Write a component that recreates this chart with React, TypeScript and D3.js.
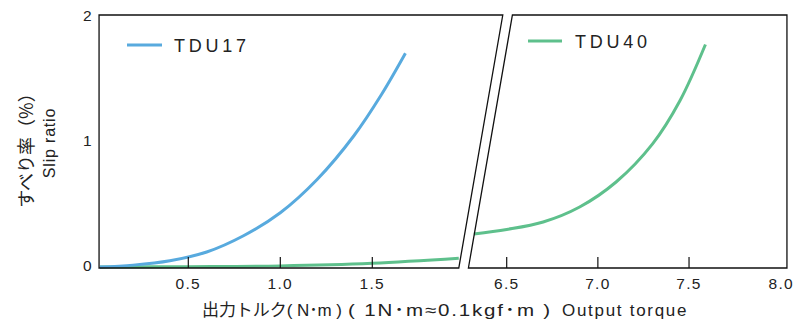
import React from 'react';
import * as d3 from 'd3';

// TDU17 (left panel)
const tdu17X = [0.02, 0.2, 0.4, 0.6, 0.8, 1.0, 1.2, 1.4, 1.55, 1.68];
const tdu17Y = [0, 0.015, 0.05, 0.12, 0.25, 0.434, 0.7, 1.05, 1.38, 1.71];
// TDU40, low range shown in left panel
const tdu40LeftX = [0.02, 0.5, 1.0, 1.5, 1.97];
const tdu40LeftY = [0, 0.003, 0.009, 0.03, 0.07];
// TDU40, right panel
const tdu40RightX = [6.32, 6.5, 6.7, 6.9, 7.1, 7.3, 7.45, 7.59];
const tdu40RightY = [0.264, 0.3, 0.36, 0.48, 0.68, 0.985, 1.33, 1.78];

const leftTicks = [0.5, 1.0, 1.5];
const rightTicks = [6.5, 7.0, 7.5];
const rightLabels = [6.5, 7.0, 7.5, 8.0];
const yTicks = [0, 1, 2];

const BLUE = '#58aade';
const GREEN = '#5ec08c';
const FONT = "'Liberation Sans', 'Noto Sans CJK JP', sans-serif";
const CJK = "'Noto Sans CJK JP', sans-serif";

const width = 795;
const height = 321;

const y = d3.scaleLinear().domain([0, 2]).range([267, 17]);
const xL = d3.scaleLinear().domain([0, 2]).range([96.3, 464.3]);
const xR = d3.scaleLinear().domain([6.5, 8]).range([506.7, 780.2]);

const top = 15;
const bottom = 268;
const slant = 44;
const leftStart = xL(0.015);
const breakL = xL(1.97);
const breakR = xR(6.29);
const rightEnd = xR(8.037);

const line = d3.line<[number, number]>().curve(d3.curveCatmullRom.alpha(0.5));
const zip = (xs: number[], ys: number[], sx: (v: number) => number) =>
  xs.map((v, i) => [sx(v), y(ys[i])] as [number, number]);

export default function App() {
  const frame = '#111';
  return (
    <svg width={width} height={height} style={{ position: 'absolute', left: 0, top: 0, background: '#fff' }}>
      {/* curves */}
      <path d={line(zip(tdu40LeftX, tdu40LeftY, xL)) || ''} fill="none" stroke={GREEN} strokeWidth={3} />
      <path d={line(zip(tdu17X, tdu17Y, xL)) || ''} fill="none" stroke={BLUE} strokeWidth={3} />
      <path d={line(zip(tdu40RightX, tdu40RightY, xR)) || ''} fill="none" stroke={GREEN} strokeWidth={3} />

      {/* frame, left panel */}
      <path
        d={`M${breakL + slant},${top} L${leftStart},${top} L${leftStart},${bottom} L${breakL},${bottom} Z`}
        fill="none"
        stroke={frame}
        strokeWidth={1.3}
      />
      {/* frame, right panel */}
      <path
        d={`M${breakR + slant},${top} L${rightEnd},${top} L${rightEnd},${bottom} L${breakR},${bottom} Z`}
        fill="none"
        stroke={frame}
        strokeWidth={1.3}
      />

      {/* ticks */}
      {leftTicks.map(t => (
        <line key={'lt' + t} x1={xL(t)} x2={xL(t)} y1={bottom} y2={bottom - 11} stroke={frame} strokeWidth={1.2} />
      ))}
      {rightTicks.map(t => (
        <line key={'rt' + t} x1={xR(t)} x2={xR(t)} y1={bottom} y2={bottom - 11} stroke={frame} strokeWidth={1.2} />
      ))}

      {/* tick labels */}
      <g fontFamily={FONT} fontSize={15.5} fill="#222" letterSpacing={1.3}>
        {leftTicks.map(t => (
          <text key={'ll' + t} x={xL(t)} y={289} textAnchor="middle">{t.toFixed(1)}</text>
        ))}
        {rightLabels.map(t => (
          <text key={'rl' + t} x={xR(t) + (t === 8 ? 1 : 0)} y={289} textAnchor="middle">{t.toFixed(1)}</text>
        ))}
        {yTicks.map(t => (
          <text key={'yl' + t} x={93} y={y(t) - 2} dy="0.36em" textAnchor="end">{t}</text>
        ))}
      </g>

      {/* legend */}
      <line x1={127} x2={162} y1={45} y2={45} stroke={BLUE} strokeWidth={3} />
      <text x={174} y={46} dy="0.36em" fontFamily={FONT} fontSize={18} textLength={72} lengthAdjust="spacing" fill="#222">TDU17</text>
      <line x1={528} x2={562} y1={41} y2={41} stroke={GREEN} strokeWidth={3} />
      <text x={575} y={42} dy="0.36em" fontFamily={FONT} fontSize={18} textLength={72} lengthAdjust="spacing" fill="#222">TDU40</text>

      {/* axis titles */}
      <text
        transform="translate(27,146) rotate(-90)"
        textAnchor="middle"
        dy="0.36em"
        fontFamily={CJK}
        fontSize={18}
        fill="#222"
      >
        すべり率（%）
      </text>
      <text
        transform="translate(49,143) rotate(-90)"
        textAnchor="middle"
        dy="0.36em"
        fontFamily={FONT}
        fontSize={16}
        letterSpacing={0.8}
        fill="#222"
      >
        Slip ratio
      </text>
      <g fontFamily={FONT} fontSize={17} fill="#222">
        <text x={202} y={316} textLength={140} lengthAdjust="spacing">出力トルク( N･m )</text>
        <text x={348} y={316} letterSpacing={1.5} textLength={204} lengthAdjust="spacingAndGlyphs">( 1N･m≈0.1kgf･m )</text>
        <text x={562} y={316} letterSpacing={1.5} textLength={126} lengthAdjust="spacing">Output torque</text>
      </g>
    </svg>
  );
}
